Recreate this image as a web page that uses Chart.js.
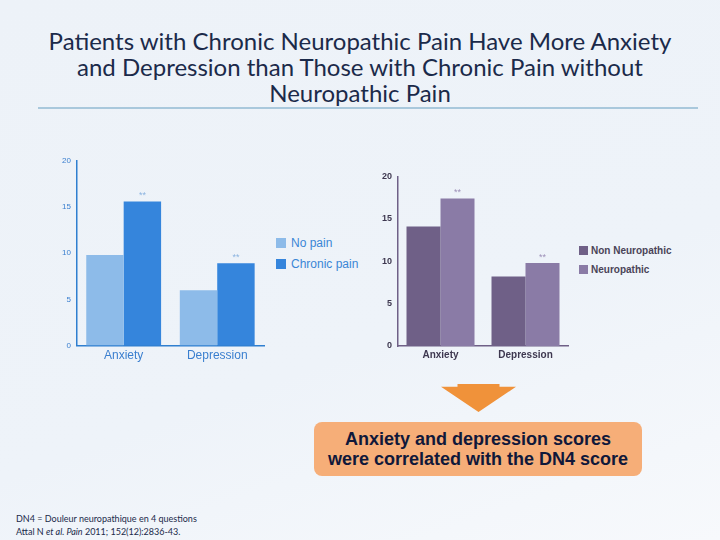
<!DOCTYPE html>
<html>
<head>
<meta charset="utf-8">
<script src="https://cdn.jsdelivr.net/npm/chart.js@4"></script>
<style>
  body { margin: 0; }
  #slide {
    position: relative; width: 720px; height: 540px; overflow: hidden;
    background: linear-gradient(160deg, #edf2f8 0%, #eef3f9 60%, #f7f9fc 100%);
    font-family: Lato, "Noto Sans", sans-serif;
  }
  #title {
    position: absolute; left: 0; top: 28px; width: 720px; text-align: center;
    color: #1b2a4a; font-size: 24px; line-height: 26px;
  }
  #rule { position: absolute; left: 38px; top: 107px; width: 660px; height: 2px; background: #a9c8dc; }
  .box { position: absolute; }
  .legend { position: absolute; font-family: "Liberation Sans", Arial, sans-serif; }
  .legend div { position: relative; white-space: nowrap; }
  .legend span { display: inline-block; vertical-align: middle; }
  #arrow {
    position: absolute; left: 441px; top: 384px; width: 75px; height: 28px;
    background: #f0923a; clip-path: polygon(22% 0, 78% 0, 78% 10%, 100% 10%, 50% 100%, 0 10%, 22% 10%);
  }
  #note {
    position: absolute; left: 314px; top: 422px; width: 328px; height: 54px;
    background: #f6ae78; border-radius: 8px; color: #10183a;
    font-family: "Liberation Sans", Arial, sans-serif; font-weight: bold;
    font-size: 18px; line-height: 20px; text-align: center; padding-top: 7px; box-sizing: border-box;
  }
  #foot {
    position: absolute; left: 16px; top: 512px; color: #1b2a4a;
    font-size: 9px; line-height: 13px;
  }
</style>
</head>
<body>
<div id="slide">
  <div id="title">Patients with Chronic Neuropathic Pain Have More Anxiety<br>and Depression than Those with Chronic Pain without<br>Neuropathic Pain</div>
  <div id="rule"></div>
  <div class="box" style="left:60px;top:154px;width:206px;height:212px"><canvas id="c1"></canvas></div>
  <div class="box" style="left:380px;top:169px;width:190px;height:195px"><canvas id="c2"></canvas></div>
  <div class="legend" id="leg1" style="left:276px;top:233px"></div>
  <div class="legend" id="leg2" style="left:579px;top:241px"></div>
  <div id="arrow"></div>
  <div id="note">Anxiety and depression scores<br>were correlated with the DN4 score</div>
  <div id="foot">DN4 = Douleur neuropathique en 4 questions<br>Attal N <i>et al. Pain</i> 2011; 152(12):2836-43.</div>
</div>
<script>
const categories = ["Anxiety", "Depression"];
const yTicks = [0, 5, 10, 15, 20];

const leftLabels = ["No pain", "Chronic pain"];
const noPain = [9.8, 6.0];
const chronicPain = [15.6, 8.9];

const rightLabels = ["Non Neuropathic", "Neuropathic"];
const nonNeuropathic = [14.1, 8.2];
const neuropathic = [17.4, 9.8];

const stars = ["**", "**"];

// draws the significance marks above the second series
const starPlugin = {
  id: "stars",
  afterDatasetsDraw(chart, args, opts) {
    const ctx = chart.ctx;
    const meta = chart.getDatasetMeta(1);
    ctx.save();
    ctx.fillStyle = opts.color;
    ctx.font = "9px Arial";
    ctx.textAlign = "center";
    meta.data.forEach((bar, i) => {
      ctx.fillText(stars[i], bar.x, bar.y - 3);
    });
    ctx.restore();
  },
};

function makeLegend(id, labels, colors, o) {
  const el = document.getElementById(id);
  labels.forEach((l, i) => {
    const row = document.createElement("div");
    row.style.height = o.row + "px";
    row.innerHTML = `<span style="width:${o.box}px;height:${o.box}px;background:${colors[i]};margin-right:${o.gap}px"></span>` +
      `<span style="color:${o.color};font-size:${o.size}px;font-weight:${o.weight}">${l}</span>`;
    el.appendChild(row);
  });
}

function makeChart(id, a, b, colors, opts) {
  return new Chart(document.getElementById(id), {
    type: "bar",
    data: {
      labels: categories,
      datasets: [
        { data: a, backgroundColor: colors[0] },
        { data: b, backgroundColor: colors[1] },
      ],
    },
    plugins: [starPlugin],
    options: {
      responsive: true,
      maintainAspectRatio: false,
      animation: false,
      layout: { padding: { top: 2, right: 2 } },
      datasets: { bar: { categoryPercentage: 0.8, barPercentage: 1 } },
      scales: {
        x: {
          grid: { display: false, drawTicks: false },
          border: { color: opts.axis, width: 1.5 },
          ticks: { color: opts.text, font: { size: opts.xSize, weight: opts.weight }, padding: 3 },
        },
        y: {
          min: 0, max: 20,
          afterBuildTicks: (s) => { s.ticks = yTicks.map((v) => ({ value: v })); },
          grid: { display: false, drawTicks: true, tickLength: 4, tickColor: opts.axis },
          border: { color: opts.axis, width: 1.5 },
          ticks: { color: opts.text, font: { size: opts.ySize, weight: opts.weight }, padding: 2 },
        },
      },
      plugins: {
        legend: { display: false },
        tooltip: { enabled: false },
        stars: { color: opts.star },
      },
    },
  });
}

Chart.defaults.font.family = "'Liberation Sans', Arial, sans-serif";

const leftColors = ["#8dbbe9", "#3585dc"];
const rightColors = ["#6f6087", "#8a7ba6"];

makeChart("c1", noPain, chronicPain, leftColors, {
  axis: "#2f7fd0", text: "#3a7fcf", star: "#8cb4e0",
  xSize: 12, ySize: 8, weight: "normal",
});
makeLegend("leg1", leftLabels, leftColors, { row: 21, box: 10, gap: 5, size: 12, weight: "normal", color: "#3a86d6" });

makeChart("c2", nonNeuropathic, neuropathic, rightColors, {
  axis: "#6f6087", text: "#3e3850", star: "#9d90b8",
  xSize: 10, ySize: 9, weight: "bold",
});
makeLegend("leg2", rightLabels, rightColors, { row: 19, box: 9, gap: 3, size: 10, weight: "bold", color: "#4a4458" });
</script>
</body>
</html>
